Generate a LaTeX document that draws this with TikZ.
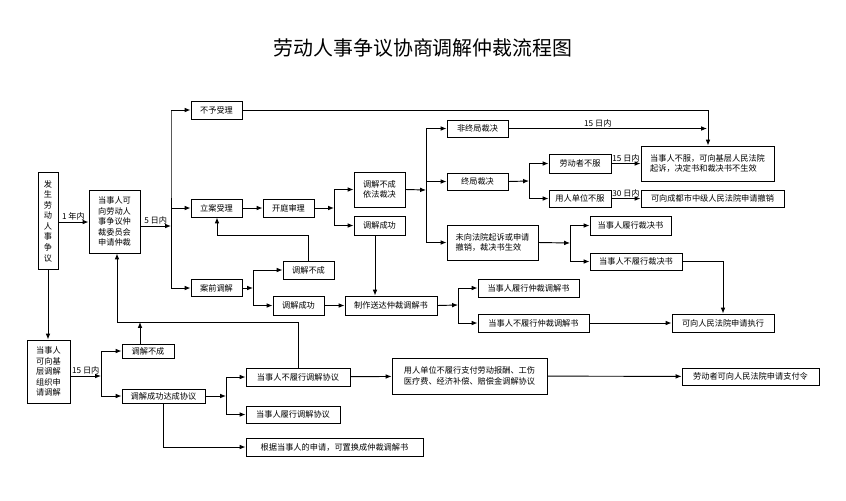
\documentclass[tikz,border=0pt]{standalone}
\usepackage{fontspec}
\setmainfont{Noto Sans CJK SC}
\usetikzlibrary{arrows.meta}
\tikzset{
  box/.style 2 args={draw, thick, inner sep=1pt, align=center, font=\fontsize{7}{9}\selectfont,
    minimum width=#1*0.03cm, minimum height=#2*0.03cm},
  arr/.style={thick, -{Latex[length=5pt,width=4pt]}},
  ln/.style={thick},
  lbl/.style={font=\fontsize{7}{8}\selectfont, inner sep=1pt}
}
\begin{document}
\begin{tikzpicture}[x=0.03cm,y=-0.03cm]
    \useasboundingbox (0,0) rectangle (846,500);
    % Title
    \node[font=\fontsize{17}{20}\selectfont] (title) at (423,48) {劳动人事争议协商调解仲裁流程图};

    % Left column
    \node[box={20}{97}, text width=9pt] (fs) at (48,221) {发\\生\\劳\\动\\人\\事\\争\\议};
    \node[box={51}{63}] (sq) at (114.5,221.5) {当事人可\\向劳动人\\事争议仲\\裁委员会\\申请仲裁};
    \node[box={43}{63}] (jc) at (48.5,371.5) {当事人\\可向基\\层调解\\组织申\\请调解};

    % Arbitration branch
    \node[box={51}{18}] (bysl) at (216.5,110) {不予受理};
    \node[box={51}{18}] (lasl) at (216.5,208) {立案受理};
    \node[box={51}{18}] (ktsl) at (288.5,208) {开庭审理};
    \node[box={51}{17}] (aqtj) at (216.5,288) {案前调解};
    \node[box={51}{35}] (tjbc1) at (379.5,189.5) {调解不成\\依法裁决};
    \node[box={51}{19}] (tjcg1) at (379.5,225.5) {调解成功};
    \node[box={51}{18}] (tjbc2) at (308.5,270) {调解不成};
    \node[box={51}{19}] (tjcg2) at (298.5,305.5) {调解成功};
    \node[box={92}{19}] (zz) at (391,305.5) {制作送达仲裁调解书};

    % Awards
    \node[box={61}{17}] (fzj) at (477.5,128.5) {非终局裁决};
    \node[box={61}{17}] (zj) at (477.5,181.5) {终局裁决};
    \node[box={91}{35}, align=left] (wxfy) at (492.5,242.5) {未向法院起诉或申请\\撤销，裁决书生效};
    \node[box={62}{19}] (ldz) at (580,163.5) {劳动者不服};
    \node[box={62}{17}] (yrdw) at (580,198.5) {用人单位不服};
    \node[box={133}{35}, align=left] (bf) at (707.5,163.5) {当事人不服，可向基层人民法院\\起诉，决定书和裁决书不生效};
    \node[box={143}{17}] (cx) at (712.5,198.5) {可向成都市中级人民法院申请撤销};
    \node[box={81}{19}] (lx1) at (630.5,225.5) {当事人履行裁决书};
    \node[box={92}{17}] (blx1) at (636,261.5) {当事人不履行裁决书};
    \node[box={101}{18}] (lx2) at (528.5,288) {当事人履行仲裁调解书};
    \node[box={111}{18}] (blx2) at (533.5,323) {当事人不履行仲裁调解书};
    \node[box={102}{18}] (zx) at (723,323) {可向人民法院申请执行};

    % Grassroots mediation
    \node[box={52}{14}] (tjbc3) at (148,351) {调解不成};
    \node[box={83}{14}] (tjcgdc) at (163.5,396) {调解成功达成协议};
    \node[box={104}{18}] (blxxy) at (298,377) {当事人不履行调解协议};
    \node[box={94}{17}] (lxxy) at (293,414.5) {当事人履行调解协议};
    \node[box={177}{18}] (gj) at (334.5,447) {根据当事人的申请，可置换成仲裁调解书};
    \node[box={155}{36}, align=left] (yrbl) at (469.5,376) {用人单位不履行支付劳动报酬、工伤\\医疗费、经济补偿、赔偿金调解协议};
    \node[box={137}{17}] (zfl) at (750.5,376.5) {劳动者可向人民法院申请支付令};

    % Junction points
    \coordinate (j1) at (171,226);
    \coordinate (j2) at (334,208);
    \coordinate (j3) at (426,190);
    \coordinate (j4) at (529,181);
    \coordinate (j5) at (570,243);
    \coordinate (j6) at (253,288);
    \coordinate (j7) at (458,305);
    \coordinate (j8) at (101,376);
    \coordinate (j9) at (226,396);

    % Connectors
    \draw[arr] (fs.east |- 0,222) -- node[lbl, above] {1 年内} (sq.west |- 0,222);
    \draw[arr] (sq.east |- j1) -- node[lbl, above] {5 日内} (j1);
    \draw[ln] (j1) |- (171,110) -- (171,288);
    \draw[arr] (171,110) -- (bysl.west);
    \draw[arr] (171,208) -- (lasl.west);
    \draw[arr] (171,288) -- (aqtj.west);
    \draw[arr] (bysl.east) -| (708,110) -- (bf.north -| 708,0);
    \draw[arr] (lasl) -- (ktsl);
    \draw[arr] (ktsl) -- (j2);
    \draw[arr] (j2) |- (tjbc1.west);
    \draw[arr] (j2) |- (tjcg1.west);
    \draw[arr] (tjbc1.east) -- (j3);
    \draw[arr] (j3) |- (fzj.west);
    \draw[arr] (j3) |- (zj.west);
    \draw[arr] (j3) |- (wxfy.west);
    \draw[arr] (fzj.east) -- node[lbl, above, pos=0.45] {15 日内} (fzj.east -| 707,0);
    \draw[arr] (zj.east) -- (j4);
    \draw[arr] (j4) |- (ldz.west);
    \draw[arr] (j4) |- (yrdw.west);
    \draw[arr] (ldz) -- node[lbl, above] {15 日内} (bf.west |- ldz);
    \draw[arr] (yrdw) -- node[lbl, above] {30 日内} (cx.west |- yrdw);
    \draw[arr] (wxfy.east) -- (j5);
    \draw[arr] (j5) |- (lx1.west);
    \draw[arr] (j5) |- (blx1.west);
    \draw[arr] (blx1.east) -| (zx.north);
    \draw[arr] (tjcg1.south -| 375,0) -- (zz.north -| 375,0);
    \draw[arr] (aqtj.east) -- (j6);
    \draw[arr] (j6) |- (tjbc2.west);
    \draw[arr] (j6) |- (tjcg2.west);
    \draw[arr] (tjbc2.north) |- (217,235) -- (lasl.south -| 217,0);
    \draw[arr] (tjcg2) -- (zz);
    \draw[arr] (zz.east) -- (j7);
    \draw[arr] (j7) |- (lx2.west);
    \draw[arr] (j7) |- (blx2.west);
    \draw[arr] (blx2) -- (zx);
    \draw[arr] (fs.south) -- (jc.north -| fs.south);
    \draw[arr] (jc.east |- j8) -- node[lbl, above] {15 日内} (j8);
    \draw[arr] (j8) |- (tjbc3.west);
    \draw[arr] (j8) |- (tjcgdc.west);
    \draw[arr] (blxxy.north) |- (117,322) -- (sq.south -| 117,0);
    \draw[arr] (tjbc3.north -| 140,0) -- (140,322);
    \draw[arr] (tjcgdc.east) -- (j9);
    \draw[arr] (j9) |- (blxxy.west);
    \draw[arr] (j9) |- (lxxy.west);
    \draw[arr] (tjcgdc.south -| 163,0) |- (gj.west);
    \draw[arr] (blxxy) -- (yrbl);
    \draw[arr] (yrbl) -- (zfl);
\end{tikzpicture}
\end{document}
